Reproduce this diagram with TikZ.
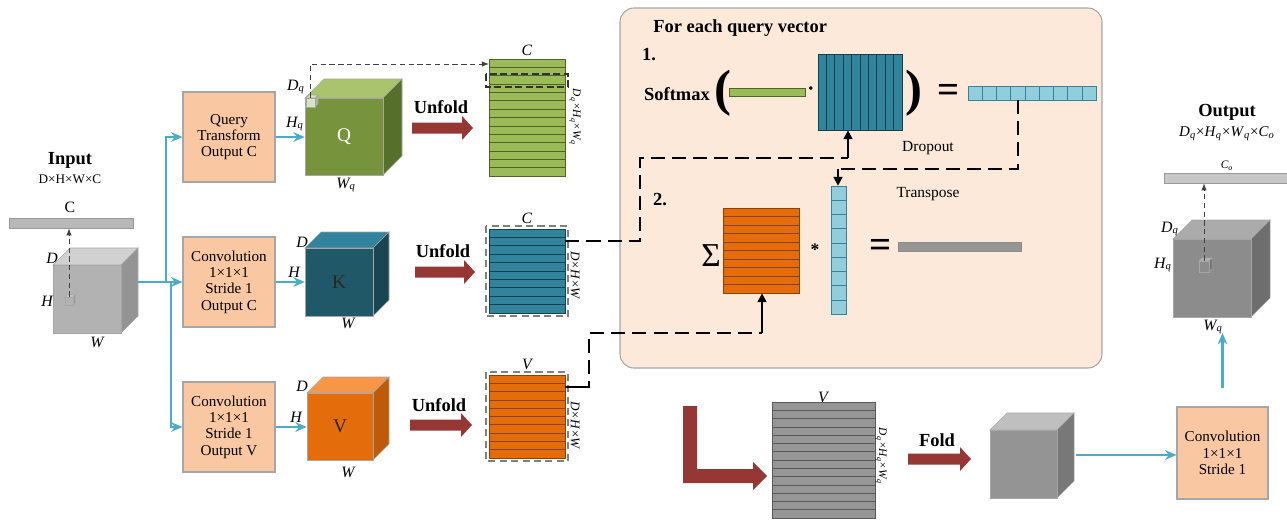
\documentclass[tikz,border=0pt]{standalone}
\usepackage{fontspec}
\setmainfont{Liberation Serif}
\usetikzlibrary{arrows.meta,fit}

\definecolor{peach}{HTML}{F9C8A2}
\definecolor{boxline}{HTML}{A6A6A6}
\definecolor{panelbg}{HTML}{FDE9D9}
\definecolor{arrowblue}{HTML}{4BACC6}
\definecolor{blockred}{HTML}{953735}
\definecolor{matgreen}{HTML}{9BBB59}
\definecolor{lingreen}{HTML}{4F6228}
\definecolor{qfront}{HTML}{77933C}
\definecolor{qtop}{HTML}{A9C46C}
\definecolor{qside}{HTML}{56702B}
\definecolor{qsmall}{HTML}{D7E4BD}
\definecolor{matteal}{HTML}{31849B}
\definecolor{linteal}{HTML}{17404D}
\definecolor{kfront}{HTML}{215868}
\definecolor{ktop}{HTML}{31849B}
\definecolor{kside}{HTML}{1A4553}
\definecolor{matorange}{HTML}{E46C0A}
\definecolor{linorange}{HTML}{8A4206}
\definecolor{vfront}{HTML}{E46C0A}
\definecolor{vtop}{HTML}{F79646}
\definecolor{vside}{HTML}{BF5A08}
\definecolor{lightblue}{HTML}{92CDDC}
\definecolor{linblue}{HTML}{31849B}
\definecolor{matgray}{HTML}{969696}
\definecolor{lingray}{HTML}{595959}

% cube: name, x, y (front top-left), width, height, depth, front, top, side
\newcommand\cubeat[9]{%
  \filldraw[#8, draw=black!35, line width=0.3pt] (#2,#3) -- ++(#6,-#6) -- ++(#4,0) -- ++(-#6,#6) -- cycle;
  \filldraw[#9, draw=black!35, line width=0.3pt] (#2+#4,#3) -- ++(#6,-#6) -- ++(0,#5) -- ++(-#6,#6) -- cycle;
  \node[fit={(#2,#3)(#2+#4,#3+#5)}, inner sep=0, fill=#7, draw=black!35, line width=0.3pt] (#1) {};
}
% striped matrix with horizontal rows: name, x1, y1, x2, y2, rows, style
\newcommand\hmat[7]{%
  \node[fit={(#2,#3)(#4,#5)}, inner sep=0, #7] (#1) {};
  \pgfmathtruncatemacro\nrows{#6-1}%
  \foreach \i in {1,...,\nrows} \draw[#7, fill=none] (#2,{#3+\i*(#5-#3)/#6}) -- (#4,{#3+\i*(#5-#3)/#6});
}
% striped matrix with vertical columns
\newcommand\vmat[7]{%
  \node[fit={(#2,#3)(#4,#5)}, inner sep=0, #7] (#1) {};
  \pgfmathtruncatemacro\ncols{#6-1}%
  \foreach \i in {1,...,\ncols} \draw[#7, fill=none] ({#2+\i*(#4-#2)/#6},#3) -- ({#2+\i*(#4-#2)/#6},#5);
}
% thick red block arrow: name, x start, x tip, y centre
\newcommand\blockarrow[4]{%
  \fill[blockred] (#2,#4-5.5) -- (#3-11,#4-5.5) -- (#3-11,#4-12) -- (#3,#4) -- (#3-11,#4+12) -- (#3-11,#4+5.5) -- (#2,#4+5.5) -- cycle;
  \coordinate (#1) at (#2,#4);
}
\newcommand\subq[1]{\textit{#1}\textsubscript{\textit{q}}}
\newcommand\subo[1]{\textit{#1}\textsubscript{\textit{o}}}

\begin{document}
\begin{tikzpicture}[x=0.02cm, y=-0.02cm,
  lbl/.style={font=\fontsize{9}{10}\selectfont\itshape, inner sep=0},
  boxtxt/.style={font=\fontsize{8.6}{9.3}\selectfont, align=center},
  ttl/.style={font=\fontsize{10.5}{12}\selectfont\bfseries, inner sep=0},
  smalltxt/.style={font=\fontsize{7.5}{9}\selectfont, inner sep=0},
  rotlbl/.style={font=\fontsize{6.5}{7}\selectfont\itshape, rotate=-90, inner sep=0},
  pbox/.style={fill=peach, draw=boxline, line width=0.6pt, inner sep=0},
  gmat/.style={fill=matgreen, draw=lingreen, line width=0.4pt},
  tmat/.style={fill=matteal, draw=linteal, line width=0.4pt},
  omat/.style={fill=matorange, draw=linorange, line width=0.4pt},
  bmat/.style={fill=lightblue, draw=linblue, line width=0.3pt},
  graymat/.style={fill=matgray, draw=lingray, line width=0.4pt},
  bar/.style={inner sep=0, draw=black!40, line width=0.3pt},
  blueline/.style={draw=arrowblue, line width=1.2pt},
  bluearrow/.style={blueline, -{Stealth[length=6.5pt,width=5.5pt]}},
  thindash/.style={draw=black!75, line width=0.5pt, dash pattern=on 3pt off 2pt, -{Latex[length=4pt,width=3pt]}},
  gframe/.style={draw=black!50, line width=0.9pt, dash pattern=on 4pt off 2.5pt},
  flow/.style={line width=1.3pt, dash pattern=on 8pt off 4pt},
  flowtip/.style={line width=1.1pt, -{Triangle[length=5pt,width=5pt]}}]
\useasboundingbox (0,0) rectangle (1287,521);

% ---------------- input ----------------
\node[ttl] (intitle) at (70,160) {Input};
\node[smalltxt] (indim) at (70,179) {D×H×W×C};
\node[lbl, font=\fontsize{9}{10}\selectfont] (inC) at (70,207) {C};
\node[bar, fill=black!28, fit={(9,218)(133,228)}] (inbar) {};
\cubeat{incube}{53}{265}{68}{68}{17}{black!30}{black!18}{black!42}
\cubeat{insm}{65}{297}{8}{8}{2}{black!30}{black!18}{black!42}
\draw[thindash] (insm.north) -- (insm.north |- inbar.south);
\node[lbl] (inD) at (52,258) {D};
\node[lbl] (inH) at (47,301) {H};
\node[lbl] (inW) at (97,342) {W};

% ---------------- transform boxes ----------------
\node[pbox, fit={(183,92)(275,182)}] (qbox) {};
\node[boxtxt] at (qbox.center) {Query\\Transform\\Output C};
\node[pbox, fit={(183,237)(275,327)}] (kbox) {};
\node[boxtxt] at (kbox.center) {Convolution\\1×1×1\\Stride 1\\Output C};
\node[pbox, fit={(183,382)(275,472)}] (vbox) {};
\node[boxtxt] at (vbox.center) {Convolution\\1×1×1\\Stride 1\\Output V};

\coordinate (inR) at (138,282);
\coordinate (forkU) at (166,282);
\coordinate (forkD) at (171,282);
\draw[blueline] (inR) -- (forkD);
\draw[bluearrow] (forkU) |- (qbox.west);
\draw[bluearrow] (forkD) -- (kbox.west);
\draw[bluearrow] (forkD) |- (vbox.west);

% ---------------- Q, K, V cubes ----------------
\cubeat{qcube}{305}{98}{78}{77}{19}{qfront}{qtop}{qside}
\node[font=\fontsize{11}{12}\selectfont, text=white] at (qcube.center) {Q};
\cubeat{qsm}{306}{98}{9}{9}{3}{qsmall}{qsmall}{qsmall!80!black}
\node[lbl] (qD) at (296,87) {\subq{D}};
\node[lbl] (qH) at (295,124) {\subq{H}};
\node[lbl] (qW) at (346,185) {\subq{W}};

\cubeat{kcube}{305}{248}{68}{68}{16}{kfront}{ktop}{kside}
\node[font=\fontsize{11}{12}\selectfont, text=black!85] at (kcube.center) {K};
\node[lbl] (kD) at (302,242) {D};
\node[lbl] (kH) at (294,272) {H};
\node[lbl] (kW) at (348,323) {W};

\cubeat{vcube}{307}{393}{66}{67}{16}{vfront}{vtop}{vside}
\node[font=\fontsize{11}{12}\selectfont, text=black!85] at (vcube.center) {V};
\node[lbl] (vD) at (302,386) {D};
\node[lbl] (vH) at (296,417) {H};
\node[lbl] (vW) at (348,472) {W};

\draw[bluearrow] (qbox.east) -- (qbox.east -| qcube.west);
\draw[bluearrow] (kbox.east) -- (kbox.east -| kcube.west);
\draw[bluearrow] (vbox.east) -- (vbox.east -| vcube.west);

% ---------------- unfold ----------------
\blockarrow{uq}{412}{473}{128}
\node[ttl] at (441,107) {Unfold};
\blockarrow{uk}{415}{475}{272}
\node[ttl] at (443,251) {Unfold};
\blockarrow{uv}{410}{472}{425}
\node[ttl] at (439,405) {Unfold};

% query matrix
\hmat{gmatq}{489}{59}{565}{176}{14}{gmat}
\node[lbl, font=\fontsize{9}{10}\selectfont\itshape] at (527,50) {C};
\node[rotlbl] at (575,117) {\subq{D}×\subq{H}×\subq{W}};
\draw[draw=black!80, line width=0.6pt, dash pattern=on 4pt off 2pt] (486,74) rectangle (568,87);
\coordinate (gin) at (489,64);
\draw[thindash] (qsm.north) |- (gin);

% key matrix
\hmat{tmatk}{489}{229}{565}{313}{10}{tmat}
\draw[gframe] (486,226) rectangle (568,316);
\node[lbl] at (527,218) {C};
\node[rotlbl, font=\fontsize{7.5}{8}\selectfont\itshape] at (575,275) {D×H×W};

% value matrix
\hmat{omatv}{489}{375}{565}{458}{10}{omat}
\draw[gframe] (486,372) rectangle (568,461);
\node[lbl] at (527,364) {V};
\node[rotlbl, font=\fontsize{7.5}{8}\selectfont\itshape] at (575,425) {D×H×W};

% ---------------- attention panel ----------------
\node[fit={(620,8)(1102,368)}, inner sep=0, rounded corners=8pt, fill=panelbg, draw=black!35, line width=0.6pt] (panel) {};
\node[ttl, anchor=west] at (653,28) {For each query vector};
\node[ttl] at (649,55) {1.};
\node[ttl] at (677,94) {Softmax};
\node[font=\fontsize{29}{29}\selectfont\bfseries, inner sep=0] (lpar) at (723,93) {(};
\node[fit={(729,88)(805,96)}, inner sep=0, fill=matgreen, draw=lingreen, line width=0.3pt] (qvec) {};
\node[font=\fontsize{12}{12}\selectfont\bfseries, inner sep=0] at (811,91) {·};
\vmat{kt}{818}{54}{902}{130}{10}{tmat}
\node[font=\fontsize{29}{29}\selectfont\bfseries, inner sep=0] (rpar) at (914,93) {)};
\node[font=\fontsize{22}{22}\selectfont\bfseries, inner sep=0] at (948,93) {=};
\vmat{att}{968}{86}{1096}{100}{9}{bmat}
\node[font=\fontsize{8.8}{10}\selectfont, inner sep=0] at (928,148) {Dropout};

\node[ttl] at (660,200) {2.};
\node[font=\fontsize{8.8}{10}\selectfont, inner sep=0] at (928,194) {Transpose};
\node[font=\fontsize{19}{19}\selectfont, inner sep=0] at (711,256) {Σ};
\hmat{vp}{723}{208}{799}{293}{10}{omat}
\node[font=\fontsize{10}{10}\selectfont\bfseries, inner sep=0] at (815,250) {*};
\hmat{attT}{831}{186}{846}{314}{9}{bmat}
\node[font=\fontsize{22}{22}\selectfont\bfseries, inner sep=0] at (880,248) {=};
\node[fit={(898,242)(1021,251)}, inner sep=0, fill=matgray, draw=black!45, line width=0.3pt] (outvec) {};

% key path into step 1
\coordinate (k1) at (640,241);
\coordinate (k2) at (640,158);
\coordinate (k3) at (848,158);
\draw[flow] (tmatk.east |- k1) -- (k1) -- (k2) -- (k3);
\draw[flowtip] (k3) -- (kt.south -| k3);
% value path into step 2
\coordinate (v1) at (589,387);
\coordinate (v2) at (589,333);
\coordinate (v3) at (762,333);
\draw[line width=1.3pt] (omatv.east |- v1) -- (581,387);
\draw[flow] (581,387) -- (v1) -- (v2) -- (v3);
\draw[flowtip] (v3) -- (vp.south -| v3);
% attention weights to transpose
\coordinate (a1) at (1018,169);
\coordinate (a2) at (838,169);
\draw[flow] (att.south -| a1) -- (a1) -- (a2);
\draw[flowtip] (a2) -- (attT.north -| a2);

% ---------------- fold and output ----------------
\fill[blockred] (683,406) -- (697,406) -- (697,469) -- (753,469) -- (753,462) -- (767,476) -- (753,490) -- (753,483) -- (683,483) -- cycle;
\coordinate (larrow) at (767,476);
\hmat{gm}{772}{402}{875}{518}{14}{graymat}
\node[lbl] at (823,397) {V};
\node[rotlbl] at (881,456) {\subq{D}×\subq{H}×\subq{W}};
\node[ttl] at (937,440) {Fold};
\blockarrow{fa}{908}{971}{459}
\cubeat{fcube}{990}{430}{67}{68}{17}{black!42}{black!25}{black!53}
\node[pbox, fit={(1177,407)(1268,499)}] (obox) {};
\node[boxtxt] at (obox.center) {Convolution\\1×1×1\\Stride 1};
\coordinate (fR) at (1076,455);
\draw[bluearrow] (fR) -- (fR -| obox.west);

\node[ttl] (outtitle) at (1227,112) {Output};
\node[smalltxt, font=\fontsize{8.5}{10}\selectfont] (outdim) at (1227,134) {\subq{D}×\subq{H}×\subq{W}×\subo{C}};
\node[lbl, font=\fontsize{6.5}{7}\selectfont\itshape] at (1227,166) {\subo{C}};
\node[bar, fill=black!22, fit={(1164,173)(1287,183)}] (outbar) {};
\cubeat{ocube}{1173}{239}{78}{78}{19}{black!45}{black!33}{black!57}
\cubeat{osm}{1199}{261}{10}{11}{3}{black!45}{black!30}{black!55}
\draw[thindash] (osm.north) -- (osm.north |- outbar.south);
\node[lbl] at (1170,229) {\subq{D}};
\node[lbl] at (1163,265) {\subq{H}};
\node[lbl] at (1213,327) {\subq{W}};
\draw[bluearrow] (obox.north |- 0,388) -- (obox.north |- 0,333);
\end{tikzpicture}
\end{document}
